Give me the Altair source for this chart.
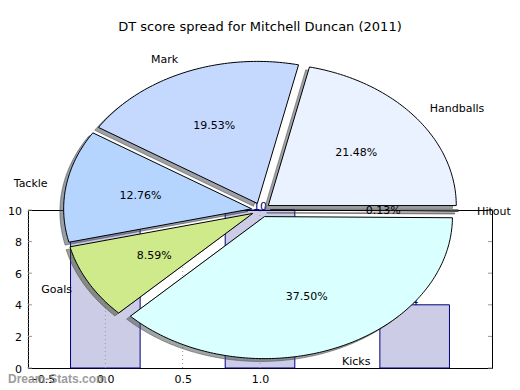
import math
import altair as alt
import pandas as pd

# ---------------- data ----------------
labels = ["Handballs", "Mark", "Tackle", "Goals", "Kicks", "Hitout"]
shares = [21.48, 19.53, 12.76, 8.59, 37.50, 0.13]
pct_text = ["21.48%", "19.53%", "12.76%", "8.59%", "37.50%", "0.13%"]
slice_colors = ["#eaf1ff", "#c5d9ff", "#b5d5ff", "#cfea8b", "#d9ffff", "#c8c8c8"]

bar_pos = [0.0, 1.0, 2.0]
bar_counts = [9, 10, 4]
x_ticks = [-0.5, 0.0, 0.5, 1.0]
y_ticks = [0, 2, 4, 6, 8, 10]

TITLE = "DT score spread for Mitchell Duncan (2011)"
WATERMARK = "Dream-Stats.com"

# ---------------- layout constants ----------------
W, H = 464, 158
X_DOM = [-0.5, 2.5]
Y_DOM = [0, 10]
BAR_W = 0.45
PCX, PCY = 1.006, 10.0        # pie centre in axis units
PRX, PRY = 1.2155, 8.99        # pie radii in axis units
EXPLODE = 0.05
SHADOW = -0.02
TICK_LEN = 4 * (X_DOM[1] - X_DOM[0]) / W
FONT = "DejaVu Sans"


def shade(hex_color, f=0.3):
    h = hex_color.lstrip("#")
    r, g, b = (int(h[i:i + 2], 16) for i in (0, 2, 4))
    return "#%02x%02x%02x" % (int(r * f), int(g * f), int(b * f))


shadow_colors = [shade(c) for c in slice_colors]

# ---------------- derived tables ----------------
total = sum(shares)
poly_rows, lab_rows = [], []
start = 0.0
for lab, s, pt in zip(labels, shares, pct_text):
    t1 = start
    t2 = start + 360.0 * s / total
    start = t2
    mid = math.radians((t1 + t2) / 2)
    ox, oy = EXPLODE * math.cos(mid), EXPLODE * math.sin(mid)
    n = max(3, int(t2 - t1) + 2)
    pts = [(ox, oy)]
    for k in range(n):
        t = math.radians(t1 + (t2 - t1) * k / (n - 1))
        pts.append((ox + math.cos(t), oy + math.sin(t)))
    pts.append((ox, oy))
    for i, (u, v) in enumerate(pts):
        poly_rows.append(dict(label=lab, i=i,
                              x=PCX + PRX * u, y=PCY + PRY * v,
                              sx=PCX + PRX * (u + SHADOW), sy=PCY + PRY * (v + SHADOW)))
    lab_rows.append(dict(label=lab, pct=pt,
                         side="L" if math.cos(mid) > 0 else "R",
                         lx=PCX + PRX * (ox + 1.1 * math.cos(mid)),
                         ly=PCY + PRY * (oy + 1.1 * math.sin(mid)),
                         px=PCX + PRX * (ox + 0.6 * math.cos(mid)),
                         py=PCY + PRY * (oy + 0.6 * math.sin(mid))))

poly = pd.DataFrame(poly_rows)
labs = pd.DataFrame(lab_rows)
bars = pd.DataFrame({"pos": bar_pos, "count": bar_counts})
grid = pd.DataFrame({"t": x_ticks})
yt = pd.DataFrame({"v": y_ticks})

# ---------------- scales / axes ----------------
xs = alt.Scale(domain=X_DOM, nice=False, zero=False)
ys = alt.Scale(domain=Y_DOM, nice=False, zero=False)
xaxis = alt.Axis(values=x_ticks, format=".1f", title=None, grid=False, ticks=False,
                 tickSize=0, domain=False, labelFontSize=11, labelColor="black",
                 labelPadding=5, labelFont=FONT, labelOverlap=False)
yaxis = alt.Axis(values=y_ticks, title=None, grid=False, ticks=False, tickSize=0,
                 domain=False, labels=False)


def X(f):
    return alt.X(f, type="quantitative", scale=xs, axis=xaxis)


def Y(f):
    return alt.Y(f, type="quantitative", scale=ys, axis=yaxis)


bar_layer = alt.Chart(bars).transform_calculate(
    x0=f"datum.pos - {BAR_W / 2}", x1=f"datum.pos + {BAR_W / 2}"
).mark_bar(fill="#000080", fillOpacity=0.2, stroke="#000080", strokeWidth=1).encode(
    x=X("x0"), x2="x1", y=Y("count"), y2=alt.datum(0)
)

grid_layer = alt.Chart(grid).mark_rule(color="#9a9a9a", strokeDash=[1, 3], strokeWidth=1).encode(
    x=X("t"), y=alt.datum(0), y2=alt.datum(10)
)

ytick_left = alt.Chart(yt).mark_rule(color="#999999", strokeWidth=1).encode(
    x=alt.datum(X_DOM[0]), x2=alt.datum(X_DOM[0] + TICK_LEN), y=Y("v"))
ytick_right = alt.Chart(yt).mark_rule(color="#999999", strokeWidth=1).encode(
    x=alt.datum(X_DOM[1] - TICK_LEN), x2=alt.datum(X_DOM[1]), y=Y("v"))
ytick_labels = alt.Chart(yt).transform_calculate(x0=f"{X_DOM[0]}").mark_text(
    align="right", baseline="middle", fontSize=11, font=FONT, color="black", dx=-6, dy=1.5).encode(
    x=X("x0"), y=Y("v"), text=alt.Text("v:Q", format="d"))

bar_text = alt.Chart(bars).mark_text(baseline="alphabetic", align="center", fontSize=11,
                                     color="#000080", font=FONT).encode(
    x=X("pos"), y=Y("count"), text="count:Q"
)

shadow_layer = alt.Chart(poly).mark_line(fillOpacity=0.5, strokeOpacity=0.5, strokeWidth=1).encode(
    x=X("sx"), y=Y("sy"),
    fill=alt.Fill("label:N", scale=alt.Scale(domain=labels, range=shadow_colors), legend=None),
    stroke=alt.Stroke("label:N", scale=alt.Scale(domain=labels, range=shadow_colors), legend=None),
    detail="label:N", order="i:Q"
)

wedge_layer = alt.Chart(poly).mark_line(stroke="black", strokeWidth=1, strokeJoin="miter").encode(
    x=X("x"), y=Y("y"),
    fill=alt.Fill("label:N", scale=alt.Scale(domain=labels, range=slice_colors), legend=None),
    detail="label:N", order="i:Q"
)

lab_left = alt.Chart(labs).transform_filter("datum.side == 'L'").mark_text(
    align="left", baseline="middle", fontSize=11, font=FONT, color="black", dy=1).encode(
    x=X("lx"), y=Y("ly"), text="label:N")
lab_right = alt.Chart(labs).transform_filter("datum.side == 'R'").mark_text(
    align="right", baseline="middle", fontSize=11, font=FONT, color="black", dy=1).encode(
    x=X("lx"), y=Y("ly"), text="label:N")
pct_layer = alt.Chart(labs).mark_text(
    align="center", baseline="middle", fontSize=11, font=FONT, color="black", dy=1).encode(
    x=X("px"), y=Y("py"), text="pct:N")

title_layer = alt.Chart(pd.DataFrame({"t": [TITLE]})).mark_text(
    align="center", baseline="middle", fontSize=13, font=FONT, color="black").encode(
    x=alt.value(W / 2), y=alt.value(-183.5), text="t:N")

wm = alt.Chart(pd.DataFrame({"t": [WATERMARK]})).mark_text(
    align="left", baseline="alphabetic", fontSize=12, fontWeight="bold", font="Liberation Sans",
    color="#8c8c8c", opacity=0.85).encode(
    x=alt.value(-20), y=alt.value(173), text="t:N")

chart = alt.layer(
    bar_layer, grid_layer, ytick_left, ytick_right, ytick_labels, bar_text,
    shadow_layer, wedge_layer, lab_left, lab_right, pct_layer, title_layer, wm
).resolve_scale(
    fill="independent", stroke="independent"
).properties(
    width=W, height=H,
    autosize=alt.AutoSizeParams(type="none"),
    padding={"left": 20, "top": 202, "right": 20, "bottom": 18},
).configure_view(
    stroke="black", strokeWidth=1
)

chart.save("out.html", embed_options={"renderer": "svg", "actions": False})
